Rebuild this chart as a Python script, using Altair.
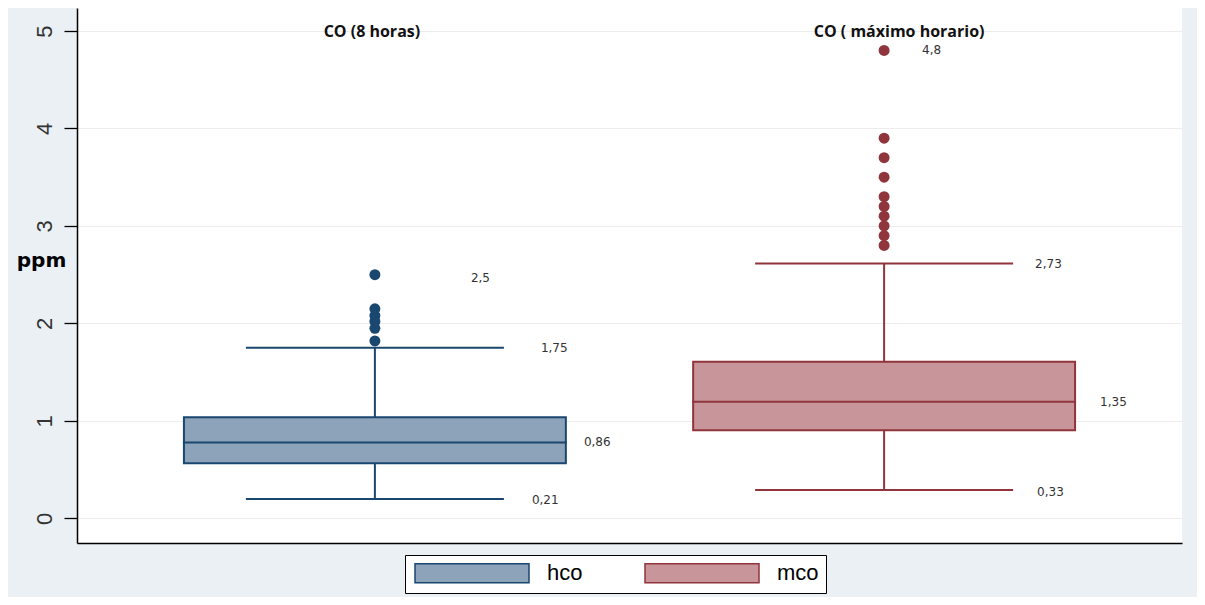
import altair as alt
import pandas as pd

# ---- data ----
series = ["hco", "mco"]
facet_titles = ["CO (8 horas)", "CO ( máximo horario)"]
q1 = [0.564, 0.903]
median = [0.779, 1.196]
q3 = [1.036, 1.607]
whisk_lo = [0.198, 0.290]
whisk_hi = [1.750, 2.614]

out_hco = [2.50, 2.15, 2.08, 2.02, 1.95, 1.82]
out_mco = [4.8, 3.9, 3.7, 3.5, 3.3, 3.2, 3.1, 3.0, 2.9, 2.8]

lab_text = ["2,5", "1,75", "0,86", "0,21", "4,8", "2,73", "1,35", "0,33"]
lab_series = ["hco", "hco", "hco", "hco", "mco", "mco", "mco", "mco"]
lab_value = [2.47, 1.75, 0.779, 0.19, 4.8, 2.614, 1.196, 0.27]

# ---- styles ----
fill_range = ["#8ca3b9", "#c8969a"]
dark_range = ["#1a476f", "#90353b"]
label_dx = [96, 166, 209, 157, 38, 151, 216, 153]
title_dx = [-3, 15]

box_df = pd.DataFrame({"series": series, "q1": q1, "median": median, "q3": q3,
                       "lo": whisk_lo, "hi": whisk_hi})
out_df = pd.DataFrame({"series": ["hco"] * len(out_hco) + ["mco"] * len(out_mco),
                       "value": out_hco + out_mco})

xenc = alt.X("series:N", title=None,
             scale=alt.Scale(domain=series, paddingInner=0.25, paddingOuter=0.21),
             axis=alt.Axis(labels=False, ticks=False, domainColor="black",
                           domainWidth=1.5, grid=False))
yscale = alt.Scale(domain=[-0.253, 5.236], nice=False, zero=False)
yaxis = alt.Axis(values=[0, 1, 2, 3, 4, 5], format="d", labelAngle=270,
                 labelAlign="center", labelBaseline="alphabetic",
                 labelFont="Liberation Sans", labelFontSize=22, labelColor="#333333",
                 labelPadding=13, tickSize=13, tickColor="black", tickWidth=1.3,
                 domainColor="black", domainWidth=1.5,
                 gridColor="#ececec", gridWidth=1,
                 title="ppm", titleAngle=0, titleX=-36, titleY=258,
                 titleAlign="center", titleBaseline="alphabetic",
                 titleFont="DejaVu Sans", titleFontWeight="bold",
                 titleFontSize=20, titleColor="black")

# wide swatch: unit size 19px, path spans 12 x 2 units -> 114 x 19 px
legend = alt.Legend(orient="none", legendX=328, legendY=547,
                    title=None, direction="horizontal",
                    symbolType="M-6,-1L6,-1L6,1L-6,1Z",
                    symbolSize=361, symbolStrokeWidth=1.5, symbolOpacity=1,
                    symbolOffset=49,
                    labelFont="Liberation Sans", labelFontSize=22, labelColor="black",
                    labelOffset=64, columnPadding=59, padding=7,
                    strokeColor="black", fillColor="white")

base = alt.Chart(box_df)

layers = []
for i, s in enumerate(series):
    sub = base.transform_filter(alt.datum.series == s)
    if i == 0:
        layers.append(sub.mark_rule(strokeWidth=2, color=dark_range[i]).encode(
            x=xenc, y=alt.Y("lo:Q", scale=yscale, axis=yaxis), y2="hi:Q"))
    else:
        layers.append(sub.mark_rule(strokeWidth=2, color=dark_range[i]).encode(
            x="series:N", y="lo:Q", y2="hi:Q"))
    layers.append(sub.mark_tick(orient="horizontal", size=258, thickness=2, opacity=1,
                                color=dark_range[i]).encode(x="series:N", y="lo:Q"))
    layers.append(sub.mark_tick(orient="horizontal", size=258, thickness=2, opacity=1,
                                color=dark_range[i]).encode(x="series:N", y="hi:Q"))

boxes = base.mark_bar(strokeWidth=2, opacity=1).encode(
    x="series:N", y="q1:Q", y2="q3:Q",
    fill=alt.Fill("series:N", scale=alt.Scale(domain=series, range=fill_range), legend=legend),
    stroke=alt.Stroke("series:N", scale=alt.Scale(domain=series, range=dark_range), legend=legend))
layers.append(boxes)

for i, s in enumerate(series):
    sub = base.transform_filter(alt.datum.series == s)
    layers.append(sub.mark_tick(orient="horizontal", size=384, thickness=2, opacity=1,
                                color=dark_range[i]).encode(x="series:N", y="median:Q"))
    layers.append(alt.Chart(out_df).transform_filter(alt.datum.series == s)
                  .mark_circle(size=120, opacity=1, color=dark_range[i])
                  .encode(x="series:N", y="value:Q"))

for t, s, v, dx in zip(lab_text, lab_series, lab_value, label_dx):
    d = pd.DataFrame({"series": [s], "value": [v], "text": [t]})
    layers.append(alt.Chart(d).mark_text(align="left", baseline="middle", dx=dx,
                                         font="DejaVu Sans", fontSize=12,
                                         color="#333333").encode(
        x="series:N", y="value:Q", text="text:N"))

for s, t, dx in zip(series, facet_titles, title_dx):
    d = pd.DataFrame({"series": [s], "text": [t]})
    layers.append(alt.Chart(d).mark_text(align="center", baseline="middle", dx=dx, dy=1,
                                         font="Open Sans", fontSize=16, fontWeight="bold",
                                         color="#111111").encode(
        x="series:N", y=alt.datum(5), text="text:N"))

chart = alt.layer(*layers).properties(
    width=1105, height=535,
    autosize=alt.AutoSizeParams(type="none"),
    padding={"left": 69, "top": 0, "right": 15, "bottom": 54},
    background="#eaf0f3",
).configure_view(fill="white", stroke=None)

chart.save("out.html", embed_options={"renderer": "svg", "actions": False})
